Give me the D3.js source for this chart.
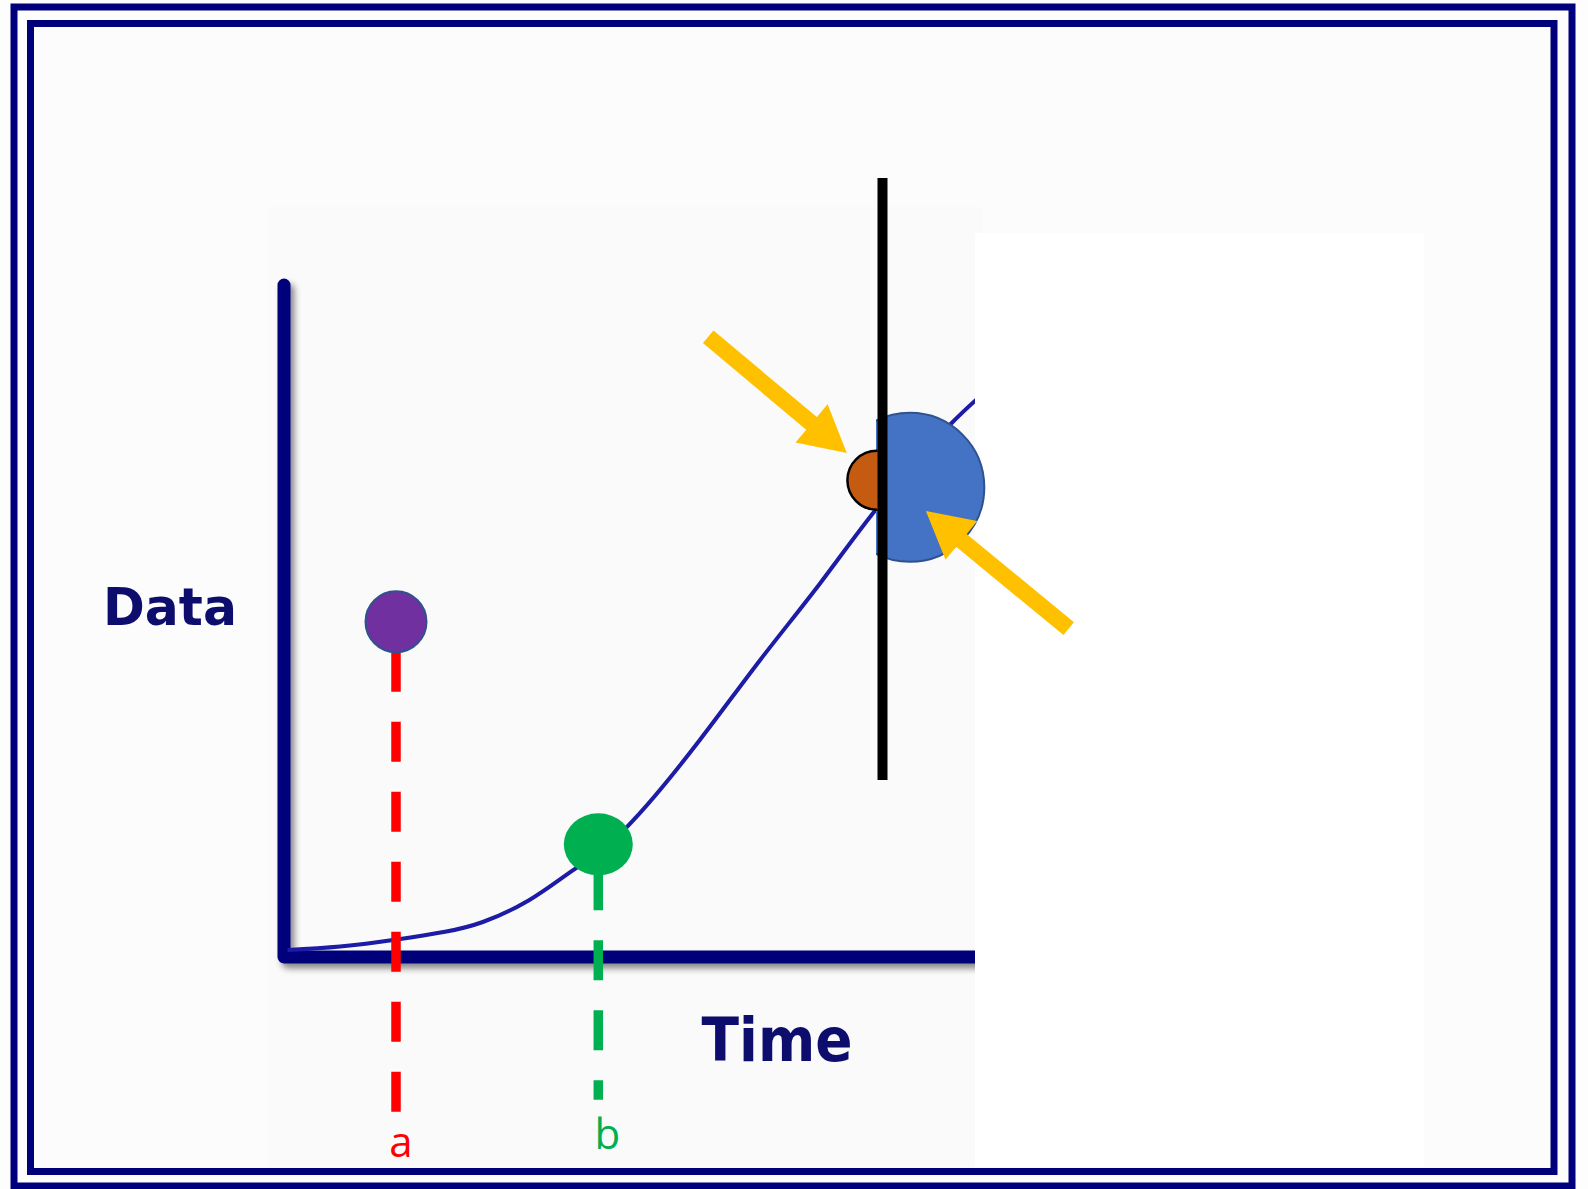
<!DOCTYPE html>
<html>
<head>
<meta charset="utf-8">
<script src="https://cdn.jsdelivr.net/npm/d3@7"></script>
<style>
  html, body { margin: 0; padding: 0; background: #ffffff; }
  svg { display: block; }
</style>
</head>
<body>
<div id="chart"></div>
<script>
// Growth curve: time vs. data (arbitrary units, 0–100 on both axes)
const curveTime = [0.5, 8.0, 16.1, 23.0, 28.4, 35.0, 41.3, 49.0, 59.4, 68.0, 76.6, 84.7, 95.1, 104.0];
const curveData = [1.0, 1.5, 2.5, 3.6, 5.0, 8.1, 12.4, 18.6, 31.0, 42.4, 53.4, 64.1, 76.0, 84.0];

// Observation markers dropped onto the time axis
const markerLabels = ["a", "b"];
const markerTime   = [16.0, 44.9];
const markerData   = [47.9, 16.1];
const markerDrop   = [-22.1, -20.4];   // where each dashed drop line ends
const markerFill   = ["#7030a0", "#00b050"];
const markerLine   = ["#ff0000", "#00b050"];

// "Now" line and the two half-discs on either side of it
const nowTime = 85.5;
const nowSpan = [25.3, 111.3];
const pastPoint = { t: 84.7, d: 68.1 };
const futurePoint = { t: 89.4, d: 67.1 };

// Arrows pointing at the meeting point: [time, data]
const arrowTail = [[60.6, 88.6], [112.1, 46.9]];
const arrowTip  = [[80.4, 72.0], [91.7, 63.7]];

const axisLabels = { x: "Time", y: "Data" };

const W = 1588, H = 1189;
const svg = d3.select("#chart").append("svg")
  .attr("width", W).attr("height", H);

const defs = svg.append("defs");
const sh = defs.append("filter").attr("id", "shadow")
  .attr("x", "-20%").attr("y", "-20%").attr("width", "140%").attr("height", "140%");
sh.append("feDropShadow").attr("dx", 4).attr("dy", 5).attr("stdDeviation", 3)
  .attr("flood-color", "#000").attr("flood-opacity", 0.45);
defs.append("filter").attr("id", "soft")
  .append("feGaussianBlur").attr("stdDeviation", 0.7);
defs.append("filter").attr("id", "softText")
  .append("feGaussianBlur").attr("stdDeviation", 0.45);

const x = d3.scaleLinear().domain([0, 100]).range([284, 984]);
const y = d3.scaleLinear().domain([0, 100]).range([957, 257]);

// page + double frame
svg.append("rect").attr("width", W).attr("height", H).attr("fill", "#fdfdfd");
svg.append("rect").attr("x", 14).attr("y", 7).attr("width", 1558).attr("height", 1179)
  .attr("fill", "none").attr("stroke", "#00007f").attr("stroke-width", 7);
svg.append("rect").attr("x", 30.5).attr("y", 23.5).attr("width", 1523.5).attr("height", 1148)
  .attr("fill", "#fcfcfc").attr("stroke", "#00007a").attr("stroke-width", 7);

// plot panel
svg.append("rect").attr("x", 268).attr("y", 207).attr("width", 714).attr("height", 960)
  .attr("fill", "#fafafa");

// axes
const axisPath = d3.path();
axisPath.moveTo(x(0), y(96));
axisPath.lineTo(x(0), y(0));
axisPath.lineTo(x(110), y(0));
svg.append("path").attr("d", axisPath.toString())
  .attr("fill", "none").attr("stroke", "#00007a").attr("stroke-width", 13)
  .attr("stroke-linecap", "round").attr("stroke-linejoin", "round")
  .attr("filter", "url(#shadow)");

// growth curve
const curvePts = curveTime.map((t, i) => [t, curveData[i]]);
const line = d3.line().x(d => x(d[0])).y(d => y(d[1])).curve(d3.curveNatural);
svg.append("path").datum(curvePts).attr("d", line)
  .attr("fill", "none").attr("stroke", "#1a1aa6").attr("stroke-width", 4)
  .attr("filter", "url(#soft)");

// blank area to the right of "now"
svg.append("rect").attr("x", 975).attr("y", 233).attr("width", 449).attr("height", 934)
  .attr("fill", "#ffffff");

// axis titles
svg.append("text").attr("x", 170).attr("y", 625).attr("text-anchor", "middle")
  .attr("font-family", "DejaVu Sans").attr("font-weight", "bold").attr("font-size", 51)
  .attr("textLength", 134).attr("lengthAdjust", "spacingAndGlyphs")
  .attr("fill", "#0d0d6e").attr("filter", "url(#softText)").text(axisLabels.y);
svg.append("text").attr("x", 777).attr("y", 1061).attr("text-anchor", "middle")
  .attr("font-family", "DejaVu Sans").attr("font-weight", "bold").attr("font-size", 61)
  .attr("textLength", 151).attr("lengthAdjust", "spacingAndGlyphs")
  .attr("fill", "#0d0d6e").attr("filter", "url(#softText)").text(axisLabels.x);

// markers: dashed drop line, dot, label
markerLabels.forEach((lab, i) => {
  const cx = x(markerTime[i]), cy = y(markerData[i]);
  const top = i === 0 ? cy + 30 : cy + 26;
  svg.append("line").attr("x1", cx).attr("x2", cx)
    .attr("y1", top).attr("y2", y(markerDrop[i]))
    .attr("stroke", markerLine[i]).attr("stroke-width", 9.5)
    .attr("stroke-dasharray", "40 30");
  if (i === 0) {
    svg.append("circle").attr("cx", cx).attr("cy", cy).attr("r", 30.5)
      .attr("fill", markerFill[i]).attr("stroke", "#2f528f").attr("stroke-width", 2);
  } else {
    svg.append("ellipse").attr("cx", cx).attr("cy", cy).attr("rx", 34.5).attr("ry", 31)
      .attr("fill", markerFill[i]);
  }
  svg.append("text").attr("x", cx + (i === 0 ? 5 : 9)).attr("y", i === 0 ? 1157 : 1149)
    .attr("text-anchor", "middle").attr("font-family", "Open Sans").attr("font-size", 42)
    .attr("fill", markerLine[i]).text(lab);
});

// half-discs either side of "now"
const nx = x(nowTime);
defs.append("clipPath").attr("id", "leftOfNow")
  .append("rect").attr("x", 0).attr("y", 0).attr("width", nx - 5).attr("height", H);
defs.append("clipPath").attr("id", "rightOfNow")
  .append("rect").attr("x", nx - 6.5).attr("y", 0).attr("width", W).attr("height", H);

svg.append("circle").attr("cx", x(futurePoint.t)).attr("cy", y(futurePoint.d)).attr("r", 74.5)
  .attr("fill", "#4472c4").attr("stroke", "#2f528f").attr("stroke-width", 2)
  .attr("clip-path", "url(#rightOfNow)");
svg.append("circle").attr("cx", x(pastPoint.t)).attr("cy", y(pastPoint.d)).attr("r", 29.5)
  .attr("fill", "#c55a11").attr("stroke", "#000").attr("stroke-width", 2.5)
  .attr("clip-path", "url(#leftOfNow)");

// "now" line
svg.append("line").attr("x1", nx).attr("x2", nx)
  .attr("y1", y(nowSpan[1])).attr("y2", y(nowSpan[0]))
  .attr("stroke", "#000").attr("stroke-width", 10);

// arrows
function arrowPolygon(tail, tip, shaft, headLen, headW) {
  const [x0, y0] = tail, [x1, y1] = tip;
  const dx = x1 - x0, dy = y1 - y0, L = Math.hypot(dx, dy);
  const ux = dx / L, uy = dy / L, px = -uy, py = ux;
  const bx = x1 - ux * headLen, by = y1 - uy * headLen;
  const s = shaft / 2, h = headW / 2;
  return [
    [x0 + px * s, y0 + py * s], [bx + px * s, by + py * s], [bx + px * h, by + py * h],
    [x1, y1],
    [bx - px * h, by - py * h], [bx - px * s, by - py * s], [x0 - px * s, y0 - py * s]
  ];
}
arrowTail.forEach((t, i) => {
  const pts = arrowPolygon([x(t[0]), y(t[1])], [x(arrowTip[i][0]), y(arrowTip[i][1])], 16.5, 46, 50);
  svg.append("polygon").attr("points", pts.map(p => p.join(",")).join(" "))
    .attr("fill", "#ffc000");
});
</script>
</body>
</html>
